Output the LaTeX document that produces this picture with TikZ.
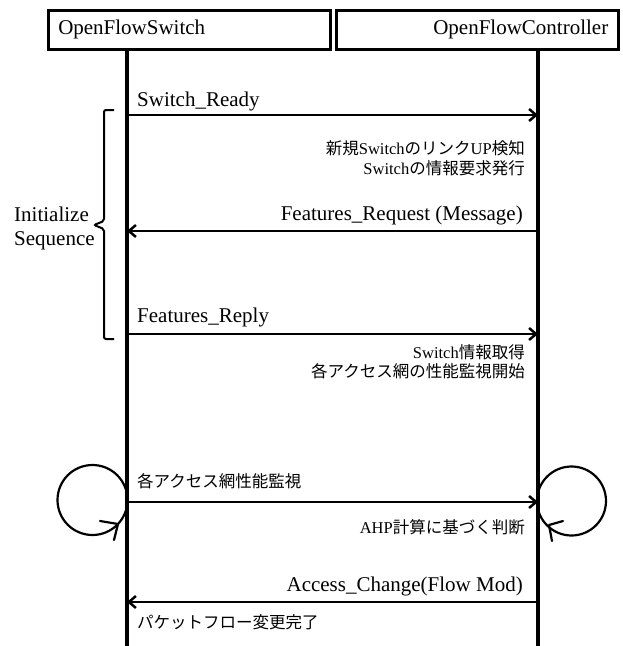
\documentclass[tikz,border=0pt]{standalone}
\usepackage{fontspec}
\setmainfont{Liberation Serif}
\newfontfamily\jp{Noto Sans CJK JP}
\usetikzlibrary{arrows.meta}
\begin{document}
\begin{tikzpicture}[x=1pt,y=-1pt,
  hdr/.style={draw,line width=2.5pt,minimum height=39pt,inner xsep=10pt,font=\fontsize{21}{24}\selectfont},
  lbl/.style={inner sep=0pt,font=\fontsize{21}{24}\selectfont},
  note/.style={inner sep=0pt,font=\fontsize{16.5}{20}\selectfont},
  life/.style={line width=3.5pt},
  msg/.style={line width=2.5pt,-{Straight Barb[length=7pt,width=12pt,line join=miter]}},
  loopline/.style={line width=2.2pt,line join=round,line cap=round},
  brace/.style={line width=2pt,rounded corners=2pt}]
\useasboundingbox (0,0) rectangle (622,646);

% header boxes
\node[hdr,anchor=north west,minimum width=282pt,text width=262pt,align=left] (sw) at (47,9) {OpenFlowSwitch};
\node[hdr,anchor=north west,minimum width=282pt,text width=262pt,align=right] (ctl) at (335,9) {OpenFlowController};

% lifelines
\coordinate (swx) at (127,0);
\coordinate (ctx) at (538,0);
\coordinate (swb) at (127,646);
\coordinate (ctb) at (538,646);
\draw[life] (sw.south -| swx) -- (swb);
\draw[life] (ctl.south -| ctx) -- (ctb);

% message end points
\coordinate (s1) at (127,115); \coordinate (c1) at (538,115);
\coordinate (s2) at (127,231); \coordinate (c2) at (538,231);
\coordinate (s3) at (127,334); \coordinate (c3) at (538,334);
\coordinate (s4) at (127,502); \coordinate (c4) at (538,502);
\coordinate (s5) at (127,602); \coordinate (c5) at (538,602);

\draw[msg] (s1) -- (c1);
\draw[msg] (c2) -- (s2);
\draw[msg] (s3) -- (c3);
\draw[msg] (s4) -- (c4);
\draw[msg] (c5) -- (s5);

% message labels
\node[lbl,anchor=base west] (m1) at (137,106) {Switch\_Ready};
\node[note,anchor=base east] (n1a) at (525,154) {{\jp 新規}Switch{\jp のリンク}UP{\jp 検知}};
\node[note,anchor=base east] (n1b) at (525,174) {Switch{\jp の情報要求発行}};
\node[lbl,anchor=base east] (m2) at (523,220) {Features\_Request (Message)};
\node[lbl,anchor=base west] (m3) at (137,322) {Features\_Reply};
\node[note,anchor=base east] (n3a) at (525,358) {Switch{\jp 情報取得}};
\node[note,anchor=base east] (n3b) at (525,377) {\jp 各アクセス網の性能監視開始};
\node[note,anchor=base west] (n4a) at (137,487) {\jp 各アクセス網性能監視};
\node[note,anchor=base east] (n4b) at (525,533) {AHP{\jp 計算に基づく判断}};
\node[lbl,anchor=base east] (m5) at (523,591) {Access\_Change(Flow Mod)};
\node[note,anchor=base west] (n5) at (137,628) {\jp パケットフロー変更完了};

% initialize sequence brace
\draw[brace] (114,110) -- (104,110) -- (104,221) -- (94,225) -- (104,229) -- (104,339) -- (114,339);
\node[lbl,anchor=base west] (g1) at (14,221) {Initialize};
\node[lbl,anchor=base west] (g2) at (14,245) {Sequence};

% self loops
\draw[loopline] (92.5,500) circle[radius=35pt];
\draw[loopline] (100,521) -- (118,524) -- (114,540);
\draw[loopline] (571.5,501) circle[radius=34.5pt];
\draw[loopline] (563,521) -- (549,525) -- (552,541);
\end{tikzpicture}
\end{document}
